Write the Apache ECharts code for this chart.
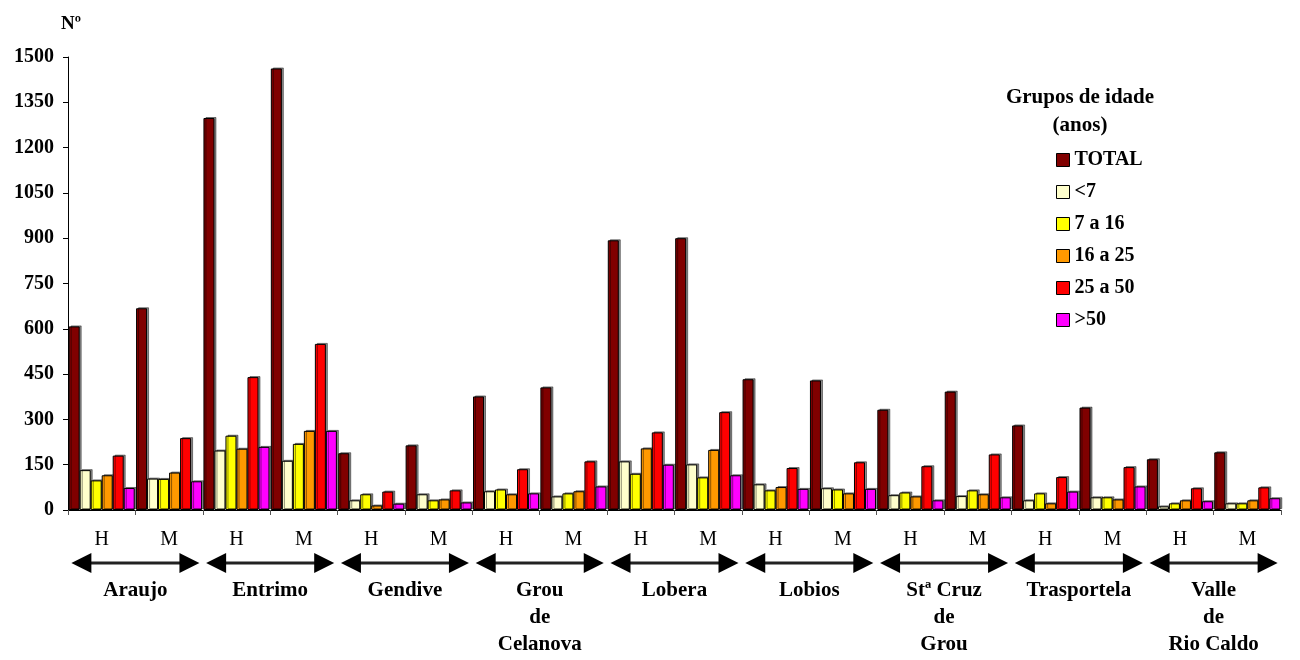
<!DOCTYPE html>
<html>
<head>
<meta charset="utf-8">
<script src="https://cdn.jsdelivr.net/npm/echarts@6/dist/echarts.min.js"></script>
<style>html,body{margin:0;padding:0;background:#fff}#c{width:1300px;height:660px}</style>
</head>
<body>
<div id="c"></div>
<script>
const sexLabels = ['H','M','H','M','H','M','H','M','H','M','H','M','H','M','H','M','H','M'];
const places = ['Araujo','Entrimo','Gendive','Grou\nde\nCelanova','Lobera','Lobios','Stª Cruz\nde\nGrou','Trasportela','Valle\nde\nRio Caldo'];
const seriesNames = ['TOTAL','<7','7 a 16','16 a 25','25 a 50','>50'];
const colors = ['#800000','#FFFFCC','#FFFF00','#FF9900','#FF0000','#FF00FF'];
const yTicks = [0,150,300,450,600,750,900,1050,1200,1350,1500];

const total   = [608,668,1298,1462,188,214,376,406,893,900,433,429,332,392,280,339,168,191];
const lt7     = [132,104,197,163,32,52,62,45,161,151,85,72,49,46,32,42,12,22];
const a7_16   = [98,103,246,219,52,32,68,55,120,108,65,68,58,65,55,42,22,22];
const a16_25  = [115,124,203,262,15,35,52,62,204,199,76,55,45,52,22,35,32,32];
const a25_50  = [180,238,440,550,61,65,135,161,257,324,139,158,145,184,109,142,72,75];
const gt50    = [73,95,209,262,21,25,55,78,150,115,70,70,32,42,61,78,29,39];
const values = [total, lt7, a7_16, a16_25, a25_50, gt50];

const FONT = '"Liberation Serif","Times New Roman",serif';
const chart = echarts.init(document.getElementById('c'));

const series = seriesNames.map((n,i)=>({
  name:n, type:'bar', xAxisIndex:0, data:values[i],
  barGap:'0%', barCategoryGap:'2%',
  itemStyle:{color:colors[i], borderColor:'#000', borderWidth:1,
    shadowColor:'rgba(0,0,0,0.45)', shadowOffsetX:2, shadowOffsetY:-1, shadowBlur:0},
  emphasis:{disabled:true}
}));

const headerGraphics = [
  {type:'text', x:1080, y:87, style:{text:'Grupos de idade', font:'bold 21px '+FONT, fill:'#000', textAlign:'center'}},
  {type:'text', x:1080, y:115, style:{text:'(anos)', font:'bold 21px '+FONT, fill:'#000', textAlign:'center'}}
];

chart.setOption({
  animation:false,
  backgroundColor:'#fff',
  grid:{left:68, right:19, top:57, bottom:150, containLabel:false},
  title:{text:'Nº', left:56, top:10, textStyle:{fontFamily:FONT, fontWeight:'bold', fontSize:19, color:'#000'}},
  legend:{
    orient:'vertical', left:1051, top:145, itemWidth:13, itemHeight:13, itemGap:12,
    icon:'rect', data:seriesNames,
    itemStyle:{borderColor:'#000', borderWidth:1, shadowBlur:0, shadowOffsetX:0, shadowOffsetY:0},
    textStyle:{fontFamily:FONT, fontWeight:'bold', fontSize:20, color:'#000'}
  },
  xAxis:[
    {type:'category', data:sexLabels, boundaryGap:true,
     axisLine:{lineStyle:{color:'#000', width:1}},
     axisTick:{show:true, length:5, lineStyle:{color:'#555'}},
     axisLabel:{interval:0, margin:20, fontFamily:FONT, fontSize:20, color:'#000'},
     splitLine:{show:false}},
    {type:'category', data:places, position:'bottom', boundaryGap:true,
     axisLine:{show:false}, axisTick:{show:false},
     axisLabel:{interval:0, margin:67, fontFamily:FONT, fontWeight:'bold', fontSize:21, color:'#000', lineHeight:27, verticalAlign:'top'},
     splitLine:{show:false}}
  ],
  yAxis:{type:'value', min:0, max:1500, interval:150,
    axisLine:{show:true, lineStyle:{color:'#000'}},
    axisTick:{show:true, length:5, lineStyle:{color:'#000'}},
    splitLine:{show:false},
    axisLabel:{margin:14, fontFamily:FONT, fontWeight:'bold', fontSize:20, color:'#000', formatter:v=>String(v)}
  },
  series:series,
  graphic:headerGraphics
});

// double-headed arrows under each pair of categories
const arrows = [];
const y = 563;
for (let p=0; p<places.length; p++){
  const c0 = chart.convertToPixel({xAxisIndex:0}, 2*p);
  const c1 = chart.convertToPixel({xAxisIndex:0}, 2*p+1);
  const cw = c1 - c0;
  const cx = (c0 + c1)/2;
  const half = cw*0.95;
  const L = cx - half, R = cx + half;
  const head = 20, hh = 10;
  arrows.push({type:'line', shape:{x1:L+head-2, y1:y, x2:R-head+2, y2:y}, style:{stroke:'#222', lineWidth:3}, silent:true});
  arrows.push({type:'polygon', shape:{points:[[L,y],[L+head,y-hh],[L+head,y+hh]]}, style:{fill:'#000'}, silent:true});
  arrows.push({type:'polygon', shape:{points:[[R,y],[R-head,y-hh],[R-head,y+hh]]}, style:{fill:'#000'}, silent:true});
}
chart.setOption({graphic:[...headerGraphics, ...arrows]});
</script>
</body>
</html>
